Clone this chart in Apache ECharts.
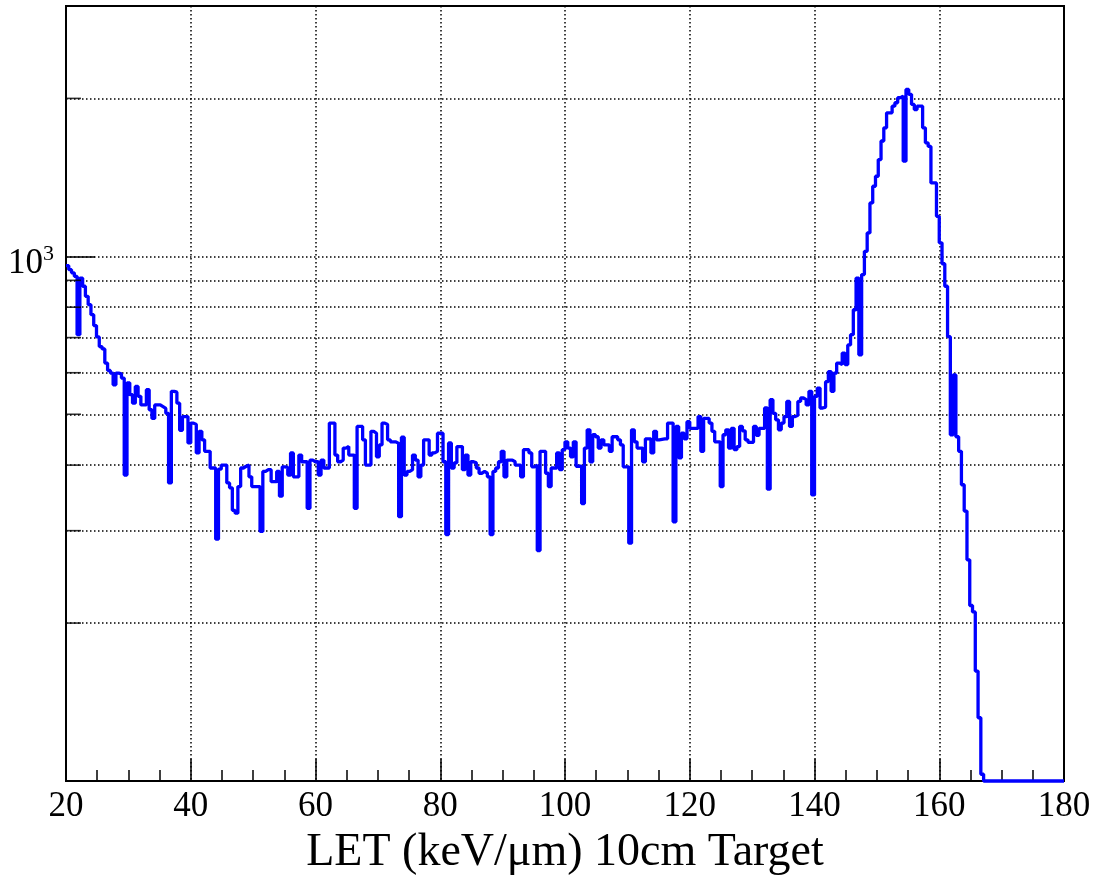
<!DOCTYPE html>
<html>
<head>
<meta charset="utf-8">
<script src="https://cdn.jsdelivr.net/npm/echarts@6/dist/echarts.min.js"></script>
<style>
html,body{margin:0;padding:0;background:#ffffff;}
#chart{width:1095px;height:877px;}
</style>
</head>
<body>
<div id="chart"></div>
<script>
// ---- data ----
const xMin = 20;
const xMax = 180;
const binWidth = 4 / 9;          // 360 bins between 20 and 180
const yMin = 100;
const yMax = 3000;
const xTickStep = 20;
const yMinorTicks = [200, 300, 400, 500, 600, 700, 800, 900, 2000];
const xTitle = 'LET (keV/\u03bcm) 10cm Target';

// bin contents, one per bin starting at xMin
const counts = [
  960, 943, 930, 916, 709, 909, 877, 839, 809, 774,
  738, 702, 673, 666, 626, 606, 599, 569, 599, 597,
  586, 383, 574, 545, 525, 565, 541, 521, 521, 557,
  510, 491, 521, 521, 517, 513, 502, 370, 553, 551,
  525, 466, 495, 495, 441, 481, 478, 422, 464, 447,
  425, 425, 395, 395, 289, 393, 400, 400, 370, 362,
  328, 324, 364, 395, 398, 400, 380, 364, 364, 364,
  299, 389, 392, 392, 372, 372, 389, 349, 397, 396,
  383, 422, 380, 380, 418, 406, 406, 331, 409, 406,
  406, 383, 409, 395, 395, 481, 481, 418, 406, 409,
  431, 434, 418, 418, 331, 474, 474, 447, 400, 400,
  464, 460, 415, 437, 481, 478, 447, 443, 443, 440,
  319, 452, 383, 389, 392, 418, 409, 380, 400, 447,
  447, 418, 422, 425, 460, 460, 406, 295, 441, 395,
  404, 434, 434, 392, 418, 383, 406, 404, 395, 386,
  389, 386, 380, 295, 389, 395, 406, 425, 380, 409,
  409, 406, 400, 400, 380, 428, 428, 422, 397, 400,
  275, 425, 425, 386, 364, 395, 395, 422, 392, 428,
  443, 431, 415, 443, 398, 398, 338, 431, 467, 406,
  457, 453, 431, 447, 437, 437, 425, 453, 453, 447,
  437, 397, 397, 284, 467, 443, 431, 431, 406, 449,
  449, 422, 464, 447, 448, 449, 449, 481, 481, 312,
  474, 413, 460, 449, 484, 470, 470, 470, 495, 425,
  491, 491, 481, 464, 443, 443, 364, 457, 467, 431,
  470, 428, 434, 474, 465, 447, 442, 442, 474, 456,
  470, 470, 514, 360, 533, 502, 488, 467, 481, 495,
  529, 474, 495, 498, 529, 537, 533, 521, 553, 351,
  541, 561, 514, 516, 577, 603, 553, 599, 626, 622,
  654, 622, 678, 709, 791, 909, 649, 923, 1022, 1108,
  1264, 1360, 1421, 1529, 1659, 1758, 1877, 1877, 1933, 1962,
  2006, 2020, 1518, 2080, 2036, 1948, 1904, 1933, 1933, 1758,
  1646, 1620, 1380, 1380, 1192, 1061, 968, 877, 703, 457,
  594, 453, 425, 367, 327, 264, 216, 210, 162, 132,
  103, 0, 0, 0, 0, 0, 0, 0, 0, 0,
  0, 0, 0, 0, 0, 0, 0, 0, 0, 0,
  0, 0, 0, 0, 0, 0, 0, 0, 0, 0
];

// ---- build ----
const FONT = "'Liberation Serif', 'Times New Roman', serif";
// bins below the axis minimum are drawn on the frame bottom (as ROOT does)
const histData = counts.map((c, i) => [xMin + i * binWidth, Math.max(c, yMin)]);
histData.push([xMax, Math.max(counts[counts.length - 1], yMin)]);

const dotted = { color: '#000', width: 1.5, type: [1.5, 2.5] };

const chart = echarts.init(document.getElementById('chart'), null, { renderer: 'canvas' });
chart.setOption({
  animation: false,
  backgroundColor: '#ffffff',
  grid: {
    left: 66, right: 31, top: 6, bottom: 96,
    show: true, borderColor: '#000', borderWidth: 2,
    backgroundColor: 'transparent',
    containLabel: false,
    outerBoundsMode: 'none'
  },
  xAxis: {
    type: 'value',
    min: xMin, max: xMax, interval: xTickStep,
    axisLine: { show: true, onZero: false, lineStyle: { color: '#000', width: 2 } },
    axisTick: { show: true, inside: true, length: 22, lineStyle: { color: '#000', width: 1.5 } },
    minorTick: { show: true, splitNumber: 4, length: 11, lineStyle: { color: '#000', width: 1.5 } },
    splitLine: { show: true, lineStyle: dotted },
    axisLabel: {
      show: true, color: '#000', fontFamily: FONT, fontSize: 35, margin: 8,
      showMinLabel: true, showMaxLabel: true, hideOverlap: false
    },
    name: xTitle,
    nameLocation: 'middle',
    nameGap: 49,
    nameTextStyle: { color: '#000', fontFamily: FONT, fontSize: 46 }
  },
  yAxis: {
    type: 'log', logBase: 10,
    min: yMin, max: yMax,
    axisLine: { show: true, onZero: false, lineStyle: { color: '#000', width: 2 } },
    axisTick: { show: true, inside: true, length: 29, lineStyle: { color: '#000', width: 1.5 } },
    splitLine: { show: true, lineStyle: dotted },
    axisLabel: {
      show: true, margin: 12, color: '#000',
      padding: [14, 0, 0, 0],
      showMinLabel: true, showMaxLabel: true, hideOverlap: false,
      formatter: function (v) {
        return Math.abs(Math.log10(v) - 3) < 1e-6 ? '{a|10}{b|3}' : '';
      },
      rich: {
        a: { fontFamily: FONT, fontSize: 35, color: '#000', lineHeight: 40 },
        b: { fontFamily: FONT, fontSize: 22, color: '#000', verticalAlign: 'top', lineHeight: 22 }
      }
    }
  },
  series: [
    {
      type: 'line',
      step: 'end',
      data: histData,
      symbol: 'none',
      clip: false,
      z: 3,
      lineStyle: { color: '#0000ff', width: 3.3 },
      markLine: {
        silent: true, symbol: 'none', z: 1,
        label: { show: false },
        lineStyle: dotted,
        emphasis: { disabled: true },
        data: yMinorTicks.map(v => ({ yAxis: v }))
      }
    },
    {
      type: 'scatter',
      data: yMinorTicks.map(v => [xMin, v]),
      symbol: 'rect',
      symbolSize: [15, 1.6],
      symbolOffset: [7.5, 0],
      itemStyle: { color: '#000' },
      silent: true,
      clip: false,
      z: 4
    }
  ]
});
</script>
</body>
</html>
